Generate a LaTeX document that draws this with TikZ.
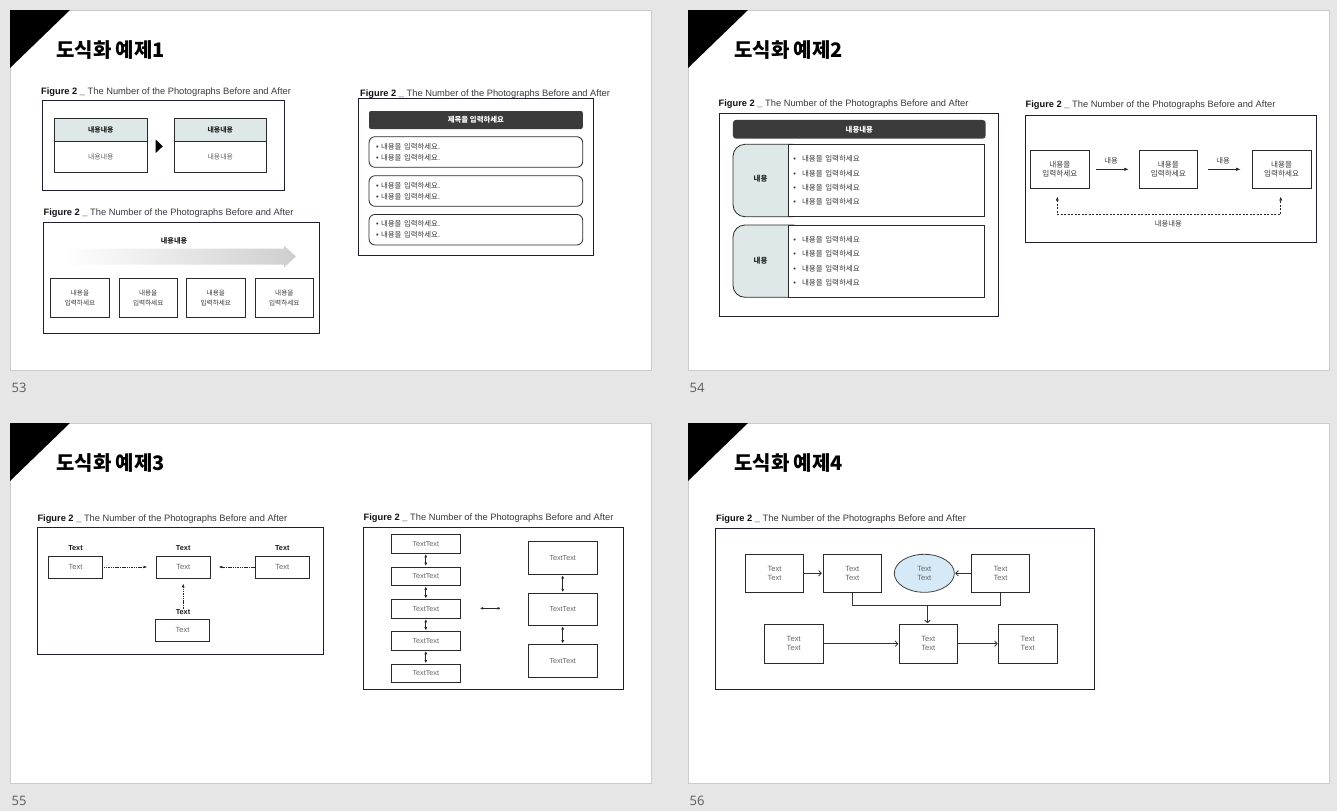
\documentclass[tikz,border=0pt]{standalone}
\usepackage{fontspec}
\setmainfont{Liberation Sans}
\newfontfamily\kr{Noto Sans CJK KR}
\newfontfamily\numf{Open Sans}
\usetikzlibrary{arrows.meta,shapes.geometric}
\definecolor{bgc}{HTML}{E6E6E6}
\definecolor{slb}{HTML}{CCCCCC}
\definecolor{framec}{HTML}{1F1F33}
\definecolor{boxc}{HTML}{2A2A2A}
\definecolor{hdrc}{HTML}{DFE8E8}
\definecolor{barc}{HTML}{3B3B3B}
\definecolor{capc}{HTML}{3A3A3A}
\definecolor{capb}{HTML}{111111}
\definecolor{txtg}{HTML}{666666}
\definecolor{txtd}{HTML}{383838}
\definecolor{ellc}{HTML}{D5EAF6}
\definecolor{numc}{HTML}{5A5A5A}
\newcommand{\mycap}{{\bfseries\color{capb}Figure 2 \_} The Number of the Photographs Before and After}
\newcommand{\bul}{{\rmfamily\textbullet}}
\newcommand{\myslide}[5]{%
  \begin{scope}[shift={(#1,#2)}]
    \fill[white, draw=slb, line width=0.6pt] (0,0) rectangle (641,360);
    \fill[black] (0,0) -- (60,0) -- (0,58) -- cycle;
    \node[ttl] (#5t) at (46,47.5) {#3};
    \node[pnum] (#5n) at (1.5,378) {#4};
  \end{scope}}
\tikzset{
  ttl/.style={anchor=base west, inner sep=0pt, font=\kr\bfseries\fontsize{20}{23}\selectfont},
  pnum/.style={anchor=west, inner sep=0pt, font=\numf\fontsize{13}{15}\selectfont, text=numc},
  figcapt/.style={anchor=west, inner sep=0pt, text=capc, font=\fontsize{9.3}{11}\selectfont},
  frm/.style={draw=framec, line width=0.9pt},
  hdr/.style={draw=boxc, fill=hdrc, line width=0.7pt, inner sep=0pt, font=\kr\bfseries\fontsize{6.9}{8}\selectfont, text=black!85},
  bodyc/.style={draw=boxc, fill=white, line width=0.7pt, inner sep=0pt, font=\kr\fontsize{6.9}{8}\selectfont, text=txtg},
  pbox/.style={draw=boxc, fill=white, line width=0.7pt, inner sep=0pt, minimum width=58.5pt, minimum height=39pt, align=center, font=\kr\fontsize{6.6}{10}\selectfont, text=txtd},
  klab/.style={inner sep=0pt, font=\kr\bfseries\fontsize{7.1}{8}\selectfont, text=black!85},
  bar/.style={fill=barc, rounded corners=2pt, inner sep=0pt, text=white, font=\kr\bfseries\fontsize{7.4}{8}\selectfont},
  rbox/.style={draw=boxc, line width=0.8pt, rounded corners=6pt, inner xsep=7pt, inner ysep=0pt, text width=199.7pt, minimum height=30.6pt, align=left, font=\kr\fontsize{7.4}{11}\selectfont, text=txtd},
  rcell/.style={draw=boxc, fill=white, line width=0.8pt, inner xsep=5.5pt, inner ysep=0pt, text width=185.7pt, minimum height=72.4pt, align=left, font=\kr\fontsize{7.5}{14.4}\selectfont, text=txtd},
  kbox/.style={draw=boxc, fill=white, line width=0.7pt, inner sep=0pt, minimum width=58.3pt, minimum height=38.7pt, align=center, font=\kr\fontsize{7.6}{9}\selectfont, text=txtd},
  ksm/.style={inner sep=0pt, font=\kr\fontsize{7.3}{8}\selectfont, text=txtd},
  tbox/.style={draw=boxc, fill=white, line width=0.7pt, inner sep=0pt, minimum width=54.3pt, minimum height=22pt, font=\fontsize{7.5}{9}\selectfont, text=txtg},
  tlab/.style={inner sep=0pt, font=\bfseries\fontsize{7.3}{9}\selectfont, text=black!90},
  ttbox/.style={draw=boxc, fill=white, line width=0.7pt, inner sep=0pt, minimum width=69.7pt, minimum height=18.5pt, font=\fontsize{7.2}{9}\selectfont, text=txtg},
  sbox/.style={draw=boxc, fill=white, line width=0.7pt, inner sep=0pt, minimum width=58.3pt, minimum height=38.5pt, align=center, font=\fontsize{7.6}{9.3}\selectfont, text=txtg},
  arrA/.style={line width=0.7pt, draw=black!85, -{Latex[length=4.5pt,width=3.4pt]}},
  dsh/.style={line width=0.7pt, draw=black!85, dash pattern=on 2pt off 1.5pt},
  arrC/.style={line width=0.6pt, draw=black!85, dash pattern=on 1.5pt off 0.8pt, -{Latex[length=3.6pt,width=2.8pt]}},
  dbl/.style={line width=0.8pt, draw=black!85, {Latex[length=3.2pt,width=3pt]}-{Latex[length=3.2pt,width=3pt]}},
  arrD/.style={line width=0.8pt, draw=black!80, -{Straight Barb[length=2.6pt,width=5.5pt]}},
  lnD/.style={line width=0.8pt, draw=black!80}
}
\begin{document}
\begin{tikzpicture}[x=1pt,y=-1pt]
\fill[bgc] (0,0) rectangle (1337,811);
\useasboundingbox (0,0) rectangle (1337,811);

\myslide{10}{10}{도식화 예제1}{53}{sa}
\myslide{688}{10}{도식화 예제2}{54}{sb}
\myslide{10}{423}{도식화 예제3}{55}{sc}
\myslide{688}{423}{도식화 예제4}{56}{sd}

% ---------------- slide 53 ----------------
\node[figcapt] (s1c1) at (41,92) {\mycap};
\draw[frm] (42.3,100.7) rectangle (284,190);
\node[hdr, minimum width=93pt, minimum height=23pt] (s1h1) at (100.8,129.8) {내용내용};
\node[bodyc, minimum width=93pt, minimum height=31pt] (s1b1) at (100.8,156.8) {내용내용};
\node[hdr, minimum width=92pt, minimum height=23pt] (s1h2) at (220.3,129.8) {내용내용};
\node[bodyc, minimum width=92pt, minimum height=31pt] (s1b2) at (220.3,156.8) {내용내용};
\fill[black] (155.7,139.5) -- (162.8,146.3) -- (155.7,153) -- cycle;

\node[figcapt] (s1c2) at (43.5,213.3) {\mycap};
\draw[frm] (43.3,222.7) rectangle (319.5,333.5);
\node[klab] (s1tt) at (174,240.5) {내용내용};
\shade[left color=white, right color=black!19] (62,248.5) -- (284,248.5) -- (284,245.5) -- (296,256.5) -- (284,267.5) -- (284,264.5) -- (62,264.5) -- cycle;
\node[pbox] (s1p1) at (80,297.8) {내용을\\입력하세요};
\node[pbox] (s1p2) at (148.2,297.8) {내용을\\입력하세요};
\node[pbox] (s1p3) at (215.8,297.8) {내용을\\입력하세요};
\node[pbox] (s1p4) at (284.3,297.8) {내용을\\입력하세요};

\node[figcapt] (s1c3) at (360,94.3) {\mycap};
\draw[frm] (358.3,98.3) rectangle (593.7,255.7);
\node[bar, minimum width=213.7pt, minimum height=18pt] (s1bar) at (475.9,120) {제목을 입력하세요};
\node[rbox] (s1r1) at (475.9,152) {\bul\ 내용을 입력하세요.\\\bul\ 내용을 입력하세요.};
\node[rbox] (s1r2) at (475.9,191) {\bul\ 내용을 입력하세요.\\\bul\ 내용을 입력하세요.};
\node[rbox] (s1r3) at (475.9,229.7) {\bul\ 내용을 입력하세요.\\\bul\ 내용을 입력하세요.};

% ---------------- slide 54 ----------------
\node[figcapt] (s2c1) at (718.5,104.3) {\mycap};
\draw[frm] (719,113.3) rectangle (998.7,316);
\node[bar, rounded corners=3pt, minimum width=252.7pt, minimum height=18.7pt] (s2bar) at (859.3,129.3) {내용내용};
\filldraw[fill=hdrc, draw=boxc, line width=0.8pt, rounded corners=12pt] (733,144.3) rectangle (805,216.7);
\node[rcell] (s2r1) at (886.3,180.5) {\bul\hspace{6pt}내용을 입력하세요\\\bul\hspace{6pt}내용을 입력하세요\\\bul\hspace{6pt}내용을 입력하세요\\\bul\hspace{6pt}내용을 입력하세요};
\node[klab, font=\kr\bfseries\fontsize{7.5}{8}\selectfont] (s2l1) at (760.5,179) {내용};
\filldraw[fill=hdrc, draw=boxc, line width=0.8pt, rounded corners=12pt] (733,225) rectangle (805,297.3);
\node[rcell] (s2r2) at (886.3,261.2) {\bul\hspace{6pt}내용을 입력하세요\\\bul\hspace{6pt}내용을 입력하세요\\\bul\hspace{6pt}내용을 입력하세요\\\bul\hspace{6pt}내용을 입력하세요};
\node[klab, font=\kr\bfseries\fontsize{7.5}{8}\selectfont] (s2l2) at (760.5,260.5) {내용};

\node[figcapt] (s2c2) at (1025.5,105) {\mycap};
\draw[frm] (1025.5,115) rectangle (1316.5,242.3);
\node[kbox] (s2a) at (1059.8,169.3) {내용을\\입력하세요};
\node[kbox] (s2b) at (1168.3,169.3) {내용을\\입력하세요};
\node[kbox] (s2c) at (1281.7,169.3) {내용을\\입력하세요};
\draw[arrA, shorten <=6.7pt, shorten >=10pt] (s2a.east) -- (s2b.west);
\draw[arrA, shorten <=10pt, shorten >=11.5pt] (s2b.east) -- (s2c.west);
\node[ksm] (s2m1) at (1111,161) {내용};
\node[ksm] (s2m2) at (1223,161) {내용};
\coordinate (s2d1) at (1057.3,196.5);
\coordinate (s2d2) at (1280.7,196.5);
\draw[dsh, arrows={Latex[length=4pt,width=3pt]-Latex[length=4pt,width=3pt]}] (s2d1) -- (1057.3,214.3) -- (1280.7,214.3) -- (s2d2);
\node[ksm] (s2m3) at (1168.3,224) {내용내용};

% ---------------- slide 55 ----------------
\node[figcapt] (s3c1) at (37.3,519) {\mycap};
\draw[frm] (37.3,527.3) rectangle (323.3,654.3);
\node[tbox] (s3l) at (75.5,567) {Text};
\node[tbox] (s3m) at (183.2,567) {Text};
\node[tbox] (s3r) at (282.3,567) {Text};
\node[tbox, minimum height=22.3pt] (s3b) at (182.5,630.2) {Text};
\node[tlab] (s3lt) at (75.5,548.3) {Text};
\node[tlab] (s3mt) at (183.2,548.3) {Text};
\node[tlab] (s3rt) at (282.3,548.3) {Text};
\node[tlab] (s3bt) at (183,612.3) {Text};
\draw[arrC, shorten <=0.6pt, shorten >=8.5pt] (s3l.east) -- (s3m.west);
\draw[arrC, shorten >=8pt] (s3r.west) -- (s3m.east);
\draw[arrC, shorten <=1pt, shorten >=5.3pt] (s3bt.north -| s3m.south) -- (s3m.south);

\node[figcapt] (s3c2) at (363.5,518.3) {\mycap};
\draw[frm] (363.3,527) rectangle (623.3,689.3);
\node[ttbox] (s3k1) at (425.8,543.8) {TextText};
\node[ttbox] (s3k2) at (425.8,576.2) {TextText};
\node[ttbox] (s3k3) at (425.8,608.8) {TextText};
\node[ttbox] (s3k4) at (425.8,640.7) {TextText};
\node[ttbox] (s3k5) at (425.8,673.5) {TextText};
\draw[dbl, shorten <=0.8pt, shorten >=0.8pt] (s3k1.south) -- (s3k2.north);
\draw[dbl, shorten <=0.8pt, shorten >=0.8pt] (s3k2.south) -- (s3k3.north);
\draw[dbl, shorten <=0.8pt, shorten >=0.8pt] (s3k3.south) -- (s3k4.north);
\draw[dbl, shorten <=0.8pt, shorten >=0.8pt] (s3k4.south) -- (s3k5.north);
\node[ttbox, minimum height=33pt] (s3q1) at (562.7,557.7) {TextText};
\node[ttbox, minimum height=32pt] (s3q2) at (562.7,609.2) {TextText};
\node[ttbox, minimum height=33pt] (s3q3) at (562.7,661) {TextText};
\draw[dbl, shorten <=0.8pt, shorten >=0.8pt] (s3q1.south) -- (s3q2.north);
\draw[dbl, shorten <=0.8pt, shorten >=0.8pt] (s3q2.south) -- (s3q3.north);
\coordinate (s3h1) at (480,608.3);
\coordinate (s3h2) at (500.7,608.3);
\draw[dbl] (s3h1) -- (s3h2);

% ---------------- slide 56 ----------------
\node[figcapt] (s4c1) at (716,519.3) {\mycap};
\draw[frm] (715.3,528.3) rectangle (1094,689.3);
\node[sbox] (s4a) at (774.5,573.3) {Text\\Text};
\node[sbox] (s4b) at (852.3,573.3) {Text\\Text};
\node[ellipse, draw=black!75, fill=ellc, line width=0.8pt, inner sep=0pt, minimum width=60pt, minimum height=38pt, align=center, font=\fontsize{7.6}{9.3}\selectfont, text=txtg] (s4e) at (924.3,573.3) {Text\\Text};
\node[sbox] (s4d) at (1000.5,573.3) {Text\\Text};
\node[sbox, minimum height=39.3pt] (s4f) at (793.7,643.7) {Text\\Text};
\node[sbox, minimum height=39.3pt] (s4g) at (928.3,643.7) {Text\\Text};
\node[sbox, minimum height=39.3pt] (s4h) at (1027.7,643.7) {Text\\Text};
\draw[arrD, shorten >=1pt] (s4a.east) -- (s4b.west);
\draw[arrD, shorten >=0.5pt] (s4d.west) -- (s4e.east);
\coordinate (s4j) at (927.5,605);
\draw[lnD] (s4b.south) |- (s4j) -| (s4d.south);
\draw[arrD, shorten >=0.5pt] (s4j) -- (s4j |- s4g.north);
\draw[arrD, shorten >=0.5pt] (s4f.east) -- (s4g.west);
\draw[arrD, shorten >=0.5pt] (s4g.east) -- (s4h.west);
\end{tikzpicture}
\end{document}
